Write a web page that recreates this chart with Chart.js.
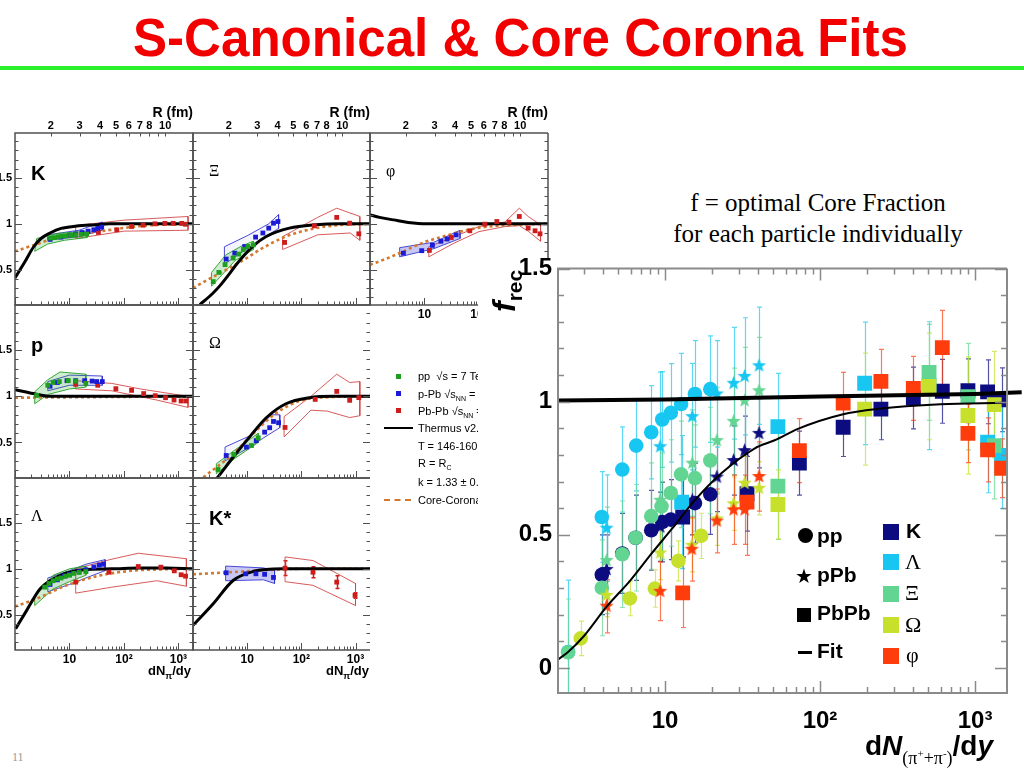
<!DOCTYPE html>
<html>
<head>
<meta charset="utf-8">
<title>S-Canonical &amp; Core Corona Fits</title>
<script src="https://cdn.jsdelivr.net/npm/chart.js@4.4.1/dist/chart.umd.min.js"></script>
<style>
  html, body { margin: 0; padding: 0; background: #fff; }
  body { width: 1024px; height: 768px; position: relative; overflow: hidden; font-family: Arial, "Liberation Sans", sans-serif; }
  #title { position: absolute; left: 133px; top: 6px; font: bold 53px "Liberation Sans", Arial, sans-serif; line-height: 64px; color: #f20000; white-space: nowrap; transform-origin: 0 0; }
  #rule { position: absolute; left: 0; top: 66px; width: 1024px; height: 4px; background: #2cf02c; }
  #leftFig canvas { position: absolute; z-index: 1; }
  .plabel { position: absolute; z-index: 2; color: #000; white-space: nowrap; }
  .sans { font: bold 20px Arial, sans-serif; line-height: 20px; }
  .serif { font: 16px "Liberation Serif", "DejaVu Serif", serif; line-height: 16px; }
  .dndy { position: absolute; z-index: 2; font: bold 13px Arial, sans-serif; top: 663px; white-space: nowrap; }
  .dndy sub { font-size: 9px; line-height: 0; }
  .leg { position: absolute; z-index: 2; font: 11px Arial, sans-serif; line-height: 12px; white-space: nowrap; }
  .leg sub { font-size: 7px; line-height: 0; }
  .mk { position: absolute; z-index: 2; width: 5px; height: 5px; }
  #mainBox { position: absolute; left: 478px; top: 258px; width: 546px; height: 510px; background: #fff; z-index: 5; }
  #mainChart { position: absolute; left: 0; top: 0; }
  .ov { position: absolute; z-index: 6; white-space: nowrap; color: #000; }
  .mtxt { font: bold 21px Arial, sans-serif; line-height: 24px; }
  .gsym { font: 22px "Liberation Serif", "DejaVu Serif", serif; line-height: 24px; }
  #note { position: absolute; left: 620px; top: 187px; width: 396px; text-align: center; font: 25px "Liberation Serif", "DejaVu Serif", serif; line-height: 31px; color: #000; z-index: 6; }
  #pageNo { position: absolute; left: 12px; top: 750px; font: 12px "Liberation Serif", serif; color: #999; }
</style>
</head>
<body>
<div id="title">S-Canonical &amp; Core Corona Fits</div>
<div id="rule"></div>

<div id="leftFig"></div>

<!-- legend of the left figure -->
<div class="mk" style="left:396px;top:374px;background:#1e9e1e"></div>
<div class="leg" style="left:418px;top:370px">pp&nbsp; √s = 7 TeV</div>
<div class="mk" style="left:396px;top:391px;background:#1b1bd6"></div>
<div class="leg" style="left:418px;top:388px">p-Pb √s<sub>NN</sub> = 5.02 TeV</div>
<div class="mk" style="left:396px;top:408px;background:#cc1c1c"></div>
<div class="leg" style="left:418px;top:405px">Pb-Pb √s<sub>NN</sub> = 2.76 TeV</div>
<div class="mk" style="left:384px;top:427px;width:29px;height:2px;background:#000"></div>
<div class="leg" style="left:418px;top:422px">Thermus v2.3 strangeness canonical</div>
<div class="leg" style="left:418px;top:440px">T = 146-160 MeV</div>
<div class="leg" style="left:418px;top:457px">R = R<sub>C</sub></div>
<div class="leg" style="left:418px;top:476px">k = 1.33 ± 0.1</div>
<div class="mk" style="left:384px;top:499px;width:27px;height:0;border-top:2px dashed #d2782f"></div>
<div class="leg" style="left:418px;top:494px">Core-Corona</div>

<div class="dndy" style="right:833px">dN<sub>π</sub>/dy</div>
<div class="dndy" style="right:655px">dN<sub>π</sub>/dy</div>

<div id="note">f = optimal Core Fraction<br>for each particle individually</div>

<div id="mainBox"><canvas id="mainChart" width="546" height="510"></canvas></div>

<!-- main chart overlays: axis titles and legend -->
<div class="ov" style="left:488px;top:312px;transform-origin:0 0;transform:rotate(-90deg);font:bold italic 32px Arial,sans-serif;line-height:32px">f<span style="font:bold 21px Arial,sans-serif;position:relative;top:7px">rec</span></div>
<div class="ov" style="left:865px;top:731px;font:bold 28px Arial,sans-serif;line-height:30px">d<i>N</i><span style="font:18px 'Liberation Serif',serif;position:relative;top:9px">(π<sup style="font-size:11px;line-height:0">+</sup>+π<sup style="font-size:11px;line-height:0">-</sup>)</span>/d<i>y</i></div>

<div class="ov" style="left:798px;top:528px;width:15px;height:15px;border-radius:50%;background:#000"></div>
<div class="ov mtxt" style="left:817px;top:524px">pp</div>
<div class="ov" style="left:795px;top:565px;font:20px 'DejaVu Sans',sans-serif;line-height:22px">★</div>
<div class="ov mtxt" style="left:817px;top:563px">pPb</div>
<div class="ov" style="left:797px;top:608px;width:14px;height:14px;background:#000"></div>
<div class="ov mtxt" style="left:817px;top:601px">PbPb</div>
<div class="ov" style="left:798px;top:651px;width:14px;height:3px;background:#000"></div>
<div class="ov mtxt" style="left:817px;top:639px">Fit</div>

<div class="ov" style="left:883px;top:524px;width:16px;height:16px;background:#0c0c80"></div>
<div class="ov mtxt" style="left:906px;top:519px">K</div>
<div class="ov" style="left:883px;top:554px;width:16px;height:16px;background:#17c7f1"></div>
<div class="ov gsym" style="left:905px;top:550px">Λ</div>
<div class="ov" style="left:883px;top:586px;width:16px;height:16px;background:#62d592"></div>
<div class="ov gsym" style="left:905px;top:581px">Ξ</div>
<div class="ov" style="left:883px;top:617px;width:16px;height:16px;background:#c6e02c"></div>
<div class="ov gsym" style="left:905px;top:613px">Ω</div>
<div class="ov" style="left:883px;top:648px;width:16px;height:16px;background:#ff3d0c"></div>
<div class="ov gsym" style="left:906px;top:643px">φ</div>

<div id="pageNo">11</div>

<script>
// ---------- main figure: [dN/dy, f_rec, error] ----------
const kaonPp = [[3.91,0.35,0.15],[5.3,0.43,0.15],[6.46,0.489,0.16],[8.15,0.517,0.15],[9.6,0.548,0.15],[10.9,0.557,0.15],[15.6,0.619,0.15],[19.6,0.652,0.15]];
const kaonPPb = [[4.2,0.37,0.13],[9.3,0.53,0.13],[15.0,0.63,0.13],[21.6,0.717,0.13],[27.7,0.779,0.13],[32.6,0.816,0.13],[40.4,0.881,0.13]];
const kaonPbPb = [[13,0.567,0.15],[33.8,0.654,0.14],[73.6,0.769,0.12],[141,0.904,0.11],[247,0.972,0.115],[400,1.014,0.116],[615,1.039,0.12],[900,1.041,0.12],[1205,1.037,0.12],[1485,1.007,0.12]];
const lambdaPp = [[2.37,0.06,0.27],[3.91,0.567,0.17],[5.3,0.745,0.16],[6.52,0.835,0.17],[8.15,0.885,0.175],[9.6,0.933,0.18],[10.9,0.958,0.185],[12.7,0.991,0.19],[15.6,1.029,0.2],[19.6,1.047,0.2]];
const lambdaPPb = [[4.2,0.525,0.2],[9.3,0.831,0.28],[15.0,0.944,0.2],[21.6,1.029,0.2],[27.7,1.069,0.21],[32.6,1.095,0.22],[40.4,1.135,0.22]];
const lambdaPbPb = [[12.8,0.623,0.25],[53.5,0.906,0.2],[194,1.069,0.23],[505,1.06,0.24],[1205,0.848,0.19],[1485,0.798,0.2]];
const xiPp = [[2.37,0.059,0.2],[3.91,0.301,0.18],[5.3,0.427,0.2],[6.46,0.489,0.2],[8.15,0.57,0.2],[9.5,0.607,0.2],[10.9,0.657,0.2],[12.7,0.727,0.2],[15.6,0.713,0.2],[19.6,0.779,0.2]];
const xiPPb = [[4.2,0.404,0.2],[9.3,0.63,0.2],[15.0,0.769,0.2],[21.6,0.854,0.2],[27.7,0.926,0.2],[32.6,1.004,0.2],[40.4,1.041,0.2]];
const xiPbPb = [[53.5,0.683,0.2],[505,1.11,0.18],[900,1.019,0.2],[1330,0.835,0.2]];
const omegaPp = [[2.86,0.111,0.065],[5.93,0.261,0.065],[8.6,0.298,0.07],[12.2,0.402,0.075],[17.1,0.496,0.085]];
const omegaPPb = [[4.2,0.273,0.08],[9.3,0.432,0.1],[14.9,0.461,0.1],[21.6,0.56,0.1],[27.7,0.617,0.1],[32.6,0.694,0.1],[40.4,0.675,0.1]];
const omegaPbPb = [[53.5,0.614,0.13],[194,0.972,0.21],[505,1.057,0.2],[900,0.948,0.22],[1330,0.989,0.2]];
const phiPPb = [[4.2,0.232,0.1],[9.3,0.288,0.11],[14.9,0.446,0.12],[21.6,0.552,0.12],[27.7,0.594,0.13],[32.6,0.594,0.13],[40.4,0.719,0.13]];
const phiPbPb = [[13,0.282,0.13],[33.8,0.623,0.2],[73.6,0.816,0.12],[141,0.995,0.115],[247,1.076,0.12],[400,1.05,0.12],[615,1.203,0.14],[900,0.881,0.11],[1205,0.819,0.12],[1485,0.75,0.11]];

const fitCurve = [[2.02,0.03],[2.37,0.06],[3,0.12],[4.2,0.23],[6,0.33],[8.2,0.43],[11,0.52],[15.6,0.63],[23,0.73],[38,0.825],[51,0.855],[72,0.898],[139,0.952],[240,0.973],[600,0.99],[1500,0.996]];
const thermusLine = [[2.04,1.004],[10,1.008],[100,1.019],[1000,1.029],[2000,1.035]];

const mainXTicks = [10, 100, 1000];
const mainXLabels = ['10', '10²', '10³'];
const mainYTicks = [0, 0.5, 1, 1.5];
const mainYLabels = ['0', '0.5', '1', '1.5'];

// ---------- left figure: [dN/dy, ratio] ----------
const kPanelPp = [[4.5,0.845],[5.3,0.85],[6.2,0.86],[7.2,0.865],[8.5,0.87],[10.5,0.875],[13,0.88],[16.5,0.885],[20.6,0.888]];
const kPanelPPb = [[4.4,0.83],[7,0.855],[10,0.875],[13,0.89],[17,0.905],[22,0.92],[28,0.935],[33,0.95],[39,0.964]];
const kPanelPbPb = [[13,0.88],[34,0.906],[74,0.935],[138,0.971],[225,0.985],[370,1.0],[565,1.005],[800,1.005],[1150,1.005],[1350,0.995]];
const kBandPp = [[2.3,0.7],[2.5,0.84],[6,0.895],[21,0.92],[21,0.85],[8,0.82],[4,0.78],[2.3,0.7]];
const kBandPPb = [[4,0.82],[4,0.88],[15,0.93],[40,1.02],[40,0.93],[15,0.86],[4,0.82]];
const kBandPbPb = [[13,0.84],[13,0.98],[100,1.04],[1500,1.08],[1500,0.93],[100,0.92],[13,0.84]];
const kThermus = [[1,0.41],[1.5,0.58],[2.2,0.75],[3,0.84],[4.4,0.9],[7,0.95],[13.5,0.975],[30,0.99],[55,1.0],[1850,1.0]];
const kCoreCorona = [[1,0.7],[2,0.76],[4.4,0.826],[10,0.87],[36,0.917],[100,0.955],[226,0.978],[600,0.993],[1850,1.0]];

const xiPanelPp = [[2.36,0.37],[3,0.47],[3.9,0.555],[5.5,0.627],[7,0.67],[8.5,0.72],[10.3,0.753],[13,0.77]];
const xiPanelPPb = [[4.1,0.616],[5.9,0.68],[9,0.753],[14.3,0.855],[19.5,0.9],[25,0.953],[30.6,1.007],[37,1.025]];
const xiPanelPbPb = [[49,0.797],[174,0.978],[450,1.07],[780,1.007],[1150,0.891]];
const xiBandPp = [[2.2,0.32],[2.2,0.47],[4,0.66],[8,0.76],[13,0.81],[13,0.72],[6,0.6],[2.2,0.32]];
const xiBandPPb = [[3.8,0.56],[3.8,0.75],[10,0.87],[25,1.0],[38,1.1],[38,0.95],[15,0.8],[3.8,0.56]];
const xiBandPbPb = [[45,0.72],[45,0.86],[200,1.07],[450,1.17],[1200,1.08],[1200,0.82],[800,0.9],[200,0.88],[45,0.72]];
const xiThermus = [[1.34,0.12],[2.3,0.24],[3.3,0.34],[4.5,0.44],[6,0.54],[8.4,0.645],[13,0.76],[22.5,0.862],[60,0.953],[186,0.99],[500,1.0],[1850,1.0]];
const xiCoreCorona = [[1,0.3],[2,0.4],[4.8,0.52],[10,0.63],[17,0.717],[52,0.862],[186,0.953],[600,0.99],[1850,1.0]];

const phiPanelPPb = [[4.1,0.68],[8.9,0.707],[14,0.765],[20,0.81],[26,0.834],[38,0.88]];
const phiPanelPbPb = [[12.3,0.71],[31,0.851],[68,0.924],[128,0.996],[213,1.025],[355,1.018],[550,1.08],[800,0.953],[1070,0.924],[1320,0.891]];
const phiBandPPb = [[3.5,0.64],[3.5,0.74],[15,0.8],[45,0.93],[45,0.84],[15,0.73],[3.5,0.64]];
const phiBandPbPb = [[12,0.64],[12,0.75],[35,0.86],[100,0.97],[300,1.02],[550,1.17],[800,1.08],[1350,0.99],[1350,0.81],[800,0.92],[550,0.98],[300,0.97],[100,0.915],[35,0.79],[12,0.64]];
const phiThermus = [[1,1.098],[1.5,1.07],[2.7,1.043],[5,1.015],[11,1.0],[1850,1.0]];
const phiCoreCorona = [[1,0.554],[2,0.62],[4.1,0.7],[10,0.8],[22,0.862],[91,0.953],[490,0.99],[1850,1.0]];

const pPanelPp = [[2.5,1.01],[4,1.12],[5,1.15],[6.5,1.16],[9.5,1.17],[13,1.165],[20,1.14]];
const pPanelPPb = [[4.4,1.11],[6,1.15],[9,1.17],[13,1.17],[19,1.17],[26,1.165],[31.5,1.16],[40,1.16]];
const pPanelPbPb = [[13,1.13],[33,1.12],[71,1.083],[138,1.065],[230,1.03],[375,1.007],[580,0.985],[830,0.96],[1120,0.95],[1370,0.95]];
const pBandPp = [[2.3,0.92],[2.3,1.05],[4,1.18],[6.7,1.264],[20,1.24],[20,1.1],[10,1.08],[4,1.02],[2.3,0.92]];
const pBandPPb = [[4,1.06],[4,1.16],[10,1.23],[40,1.22],[40,1.12],[10,1.12],[4,1.06]];
const pBandPbPb = [[13,1.08],[13,1.17],[60,1.14],[200,1.08],[1500,1.0],[1500,0.88],[400,0.96],[60,1.06],[13,1.08]];
const pThermus = [[1,1.073],[2.17,1.03],[4.4,1.0],[1850,1.0]];
const pCoreCorona = [[1,0.985],[1850,1.0]];

const omegaPanelPp = [[2.9,0.207],[5.7,0.37],[12,0.467],[16,0.55]];
const omegaPanelPPb = [[4.1,0.359],[9.7,0.45],[14.7,0.52],[21,0.612],[26,0.66],[30.6,0.728],[38,0.714]];
const omegaPanelPbPb = [[50,0.663],[180,0.967],[450,1.054],[780,0.957],[1150,0.986]];
const omegaBandPp = [[2.7,0.16],[2.7,0.27],[6,0.42],[16,0.6],[16,0.5],[6,0.33],[2.7,0.16]];
const omegaBandPPb = [[3.9,0.3],[3.9,0.45],[12,0.58],[28,0.8],[40,0.8],[40,0.66],[20,0.55],[12,0.46],[3.9,0.3]];
const omegaBandPbPb = [[48,0.56],[48,0.78],[150,1.0],[450,1.24],[780,1.15],[1200,1.16],[1200,0.79],[780,0.77],[300,0.84],[150,0.85],[48,0.56]];
const omegaThermus = [[2.4,0.07],[2.7,0.105],[5.5,0.34],[11,0.558],[22.5,0.768],[52,0.92],[140,0.985],[400,1.0],[1850,1.0]];
const omegaCoreCorona = [[1.55,0.123],[5.5,0.377],[12.8,0.594],[30,0.793],[92,0.95],[300,0.99],[1850,1.0]];

const lambdaPanelPp = [[3.5,0.8],[4.2,0.84],[5,0.87],[6,0.89],[7,0.9],[8.5,0.92],[10,0.93],[12,0.95],[15,0.96],[20,0.97]];
const lambdaPanelPPb = [[4.4,0.83],[6,0.88],[8,0.92],[10,0.94],[15,0.97],[20,0.99],[28,1.02],[35,1.04],[42,1.05]];
const lambdaPanelPbPb = [[13,0.855],[53,0.963],[183,1.025],[475,1.018],[840,0.978],[1120,0.935],[1350,0.92]];
const lambdaBandPp = [[2.3,0.6],[2.3,0.7],[5,0.93],[10,1.0],[20,1.03],[20,0.93],[10,0.86],[5,0.78],[2.3,0.6]];
const lambdaBandPPb = [[4,0.75],[4,0.9],[10,0.98],[20,1.05],[45,1.1],[45,0.98],[20,0.9],[10,0.83],[4,0.75]];
const lambdaBandPbPb = [[13,0.735],[13,1.0],[55,1.1],[183,1.17],[1400,1.11],[1400,0.81],[400,0.87],[60,0.8],[13,0.735]];
const lambdaThermus = [[1.03,0.348],[1.64,0.547],[2.9,0.783],[6.7,0.927],[18,0.99],[60,1.0],[200,1.01],[600,1.01],[1850,1.0]];
const lambdaCoreCorona = [[1,0.59],[2.5,0.674],[8.9,0.82],[36,0.927],[148,0.98],[600,0.995],[1850,1.0]];

const kstarPanelPPb = [[4.1,0.957],[9.4,0.946],[14.5,0.946],[21,0.94],[30.6,0.906]];
const kstarPanelPbPb = [[50,1.007],[164,0.963],[450,0.855],[980,0.71]];
const kstarPbPbErr = [0.08, 0.06, 0.07, 0.03];
const kstarBandPPb = [[4,0.87],[4,1.03],[20,1.01],[32,0.98],[32,0.84],[20,0.88],[4,0.87]];
const kstarBandPbPb = [[50,0.86],[50,1.13],[164,1.09],[1000,0.84],[1000,0.6],[164,0.82],[50,0.86]];
const kstarThermus = [[1,0.384],[2.36,0.62],[5.5,0.873],[12.8,0.97],[45,1.0],[1850,1.0]];
const kstarCoreCorona = [[1,0.94],[4,0.96],[30,0.99],[100,1.0],[1850,1.0]];

const panelXTicks = [10, 100, 1000];
const panelXLabels = ['10', '10²', '10³'];
const panelYTicks = [0.5, 1, 1.5];
const panelYLabels = ['0.5', '1', '1.5'];
const rTickVals = [2, 3, 4, 5, 6, 7, 8, 9, 10];
const rTickLabels = ['2', '3', '4', '5', '6', '7', '8', '', '10'];
const dnAtR2fm = 4.56;   // dN/dy where R = 2 fm, R grows as (dN/dy)^(1/3)

// ---------- colours ----------
const colK = '#0c0c80', colL = '#17c7f1', colXi = '#62d592', colOm = '#c6e02c', colPhi = '#ff3d0c';
const colPp = '#1e9e1e', colPPb = '#1b1bd6', colPbPb = '#cc1c1c', colCore = '#d2782f';

Chart.defaults.font.family = 'Arial, "Liberation Sans", sans-serif';
Chart.defaults.color = '#000';

const rToDn = r => dnAtR2fm * Math.pow(r / 2, 3);

function withAlpha(hex, a) {
  const n = parseInt(hex.slice(1), 16);
  return `rgba(${n >> 16},${(n >> 8) & 255},${n & 255},${a})`;
}

function starImage(color, r) {
  const size = Math.ceil(2 * r + 2);
  const c = document.createElement('canvas');
  c.width = c.height = size;
  const g = c.getContext('2d');
  g.fillStyle = color;
  g.beginPath();
  for (let k = 0; k < 10; k++) {
    const rad = k % 2 ? r * 0.42 : r;
    const ang = -Math.PI / 2 + k * Math.PI / 5;
    g.lineTo(size / 2 + rad * Math.cos(ang), size / 2 + rad * Math.sin(ang));
  }
  g.closePath();
  g.fill();
  return c;
}

// vertical error bars with small caps, read from dataset.errors
const errorBars = {
  id: 'errorBars',
  beforeDatasetsDraw(chart) {
    const { ctx, chartArea: a } = chart;
    const ys = chart.scales.y;
    ctx.save();
    ctx.beginPath();
    ctx.rect(a.left, a.top, a.right - a.left, a.bottom - a.top);
    ctx.clip();
    chart.data.datasets.forEach((ds, i) => {
      if (!ds.errors) return;
      const meta = chart.getDatasetMeta(i);
      ctx.strokeStyle = ds.errColor;
      ctx.lineWidth = ds.errWidth || 1.2;
      const cap = ds.errCap || 2.5;
      ctx.beginPath();
      meta.data.forEach((pt, j) => {
        const v = ds.data[j].y, e = ds.errors[j];
        const x = Math.round(pt.x) + 0.5;
        const y0 = ys.getPixelForValue(v - e), y1 = ys.getPixelForValue(v + e);
        ctx.moveTo(x, y0); ctx.lineTo(x, y1);
        ctx.moveTo(x - cap, y0); ctx.lineTo(x + cap, y0);
        ctx.moveTo(x - cap, y1); ctx.lineTo(x + cap, y1);
      });
      ctx.stroke();
    });
    ctx.restore();
  }
};

// ROOT-style frame with inward ticks
const frameTicks = {
  id: 'frameTicks',
  afterDatasetsDraw(chart, args, o) {
    const { ctx, chartArea: a } = chart;
    const xs = chart.scales.x, ys = chart.scales.y;
    ctx.save();
    ctx.strokeStyle = o.color;
    ctx.lineWidth = o.tickWidth;
    ctx.beginPath();
    const k0 = Math.ceil(ys.min * 10 - 1e-6), k1 = Math.floor(ys.max * 10 + 1e-6);
    for (let k = k0; k <= k1; k++) {
      const y = Math.round(ys.getPixelForValue(k / 10)) + 0.5;
      const len = k % 5 === 0 ? o.major : o.minor;
      ctx.moveTo(a.left, y); ctx.lineTo(a.left + len, y);
      ctx.moveTo(a.right, y); ctx.lineTo(a.right - len, y);
    }
    const d0 = Math.floor(Math.log10(xs.min)), d1 = Math.ceil(Math.log10(xs.max));
    for (let d = d0; d <= d1; d++) {
      for (let m = 1; m <= 9; m++) {
        const v = m * Math.pow(10, d);
        if (v < xs.min * 0.999 || v > xs.max * 1.001) continue;
        const x = Math.round(xs.getPixelForValue(v)) + 0.5;
        const len = m === 1 ? o.major : o.minor;
        ctx.moveTo(x, a.bottom); ctx.lineTo(x, a.bottom - len);
        if (o.topLog) { ctx.moveTo(x, a.top); ctx.lineTo(x, a.top + len); }
      }
    }
    if (o.topR) {
      rTickVals.forEach(r => {
        const x = Math.round(xs.getPixelForValue(rToDn(r))) + 0.5;
        ctx.moveTo(x, a.top); ctx.lineTo(x, a.top + o.minor);
      });
    }
    ctx.stroke();
    ctx.lineWidth = o.frameWidth;
    ctx.beginPath();
    ctx.moveTo(a.right, a.top);
    ctx.lineTo(a.left, a.top);
    ctx.lineTo(a.left, a.bottom);
    ctx.lineTo(a.right, a.bottom);
    if (!o.noRight) ctx.lineTo(a.right, a.top);
    ctx.stroke();
    ctx.restore();
  }
};

// ---------- main chart ----------
function mainSet(rows, color, style, order) {
  return {
    data: rows.map(r => ({ x: r[0], y: r[1] })),
    errors: rows.map(r => r[2]),
    errColor: withAlpha(color, 0.7),
    pointStyle: style === 'star' ? starImage(color, 7.5) : style,
    pointRadius: style === 'rect' ? 10.5 : 7.3,
    pointBackgroundColor: color,
    pointBorderWidth: 0,
    showLine: false,
    order
  };
}

function lineSet(rows, color, width, extra) {
  return Object.assign({
    type: 'line',
    data: rows.map(r => ({ x: r[0], y: r[1] })),
    borderColor: color,
    borderWidth: width,
    pointRadius: 0,
    fill: false,
    tension: 0.4,
    cubicInterpolationMode: 'monotone',
    order: 0
  }, extra || {});
}

function initMainChart() {
  const datasets = [
    lineSet(thermusLine, '#000', 4, { tension: 0, cubicInterpolationMode: 'default', clip: false }),
    lineSet(fitCurve, '#000', 2),
    mainSet(kaonPp, colK, 'circle', 5), mainSet(kaonPPb, colK, 'star', 5), mainSet(kaonPbPb, colK, 'rect', 5),
    mainSet(lambdaPp, colL, 'circle', 4), mainSet(lambdaPPb, colL, 'star', 4), mainSet(lambdaPbPb, colL, 'rect', 4),
    mainSet(xiPp, colXi, 'circle', 3), mainSet(xiPPb, colXi, 'star', 3), mainSet(xiPbPb, colXi, 'rect', 3),
    mainSet(omegaPp, colOm, 'circle', 2), mainSet(omegaPPb, colOm, 'star', 2), mainSet(omegaPbPb, colOm, 'rect', 2),
    mainSet(phiPPb, colPhi, 'star', 1), mainSet(phiPbPb, colPhi, 'rect', 1)
  ];
  new Chart(document.getElementById('mainChart'), {
    type: 'scatter',
    data: { datasets },
    options: {
      responsive: false,
      animation: false,
      events: [],
      layout: { padding: { top: 10, right: 17, left: 0, bottom: 0 } },
      plugins: {
        legend: { display: false },
        tooltip: { enabled: false },
        frameTicks: { color: '#8a8a8a', tickWidth: 1.5, frameWidth: 2, major: 12, minor: 6, topLog: true }
      },
      scales: {
        x: {
          type: 'logarithmic', min: 2.04, max: 1608, position: 'bottom',
          afterBuildTicks: s => { s.ticks = mainXTicks.map(v => ({ value: v })); },
          afterFit: s => { s.height = 75; s.paddingLeft = 0; s.paddingRight = 0; },
          ticks: { callback: (v, i) => mainXLabels[i], font: { size: 24, weight: 'bold' }, color: '#000', padding: 14, autoSkip: false, maxRotation: 0, minRotation: 0 },
          grid: { display: false, drawTicks: false },
          border: { display: false }
        },
        y: {
          min: -0.094, max: 1.5, position: 'left',
          afterBuildTicks: s => { s.ticks = mainYTicks.map(v => ({ value: v })); },
          afterFit: s => { s.width = 80; s.paddingTop = 0; s.paddingBottom = 0; },
          ticks: { callback: (v, i) => mainYLabels[i], font: { size: 24, weight: 'bold' }, color: '#000', padding: 6, autoSkip: false },
          grid: { display: false, drawTicks: false },
          border: { display: false }
        }
      }
    },
    plugins: [errorBars, frameTicks]
  });
}

// ---------- left figure ----------
const colEdges = [[15, 193], [193, 370], [370, 548]];
const rowEdges = [[133, 305], [305, 478], [478, 650]];

const panels = [
  { col: 0, row: 0, label: 'K', font: 'sans', pp: kPanelPp, ppb: kPanelPPb, pbpb: kPanelPbPb, bands: [kBandPp, kBandPPb, kBandPbPb], thermus: kThermus, core: kCoreCorona, blueFill: 0.06 },
  { col: 1, row: 0, label: 'Ξ', font: 'serif', pp: xiPanelPp, ppb: xiPanelPPb, pbpb: xiPanelPbPb, bands: [xiBandPp, xiBandPPb, xiBandPbPb], thermus: xiThermus, core: xiCoreCorona, blueFill: 0.06 },
  { col: 2, row: 0, label: 'φ', font: 'serif', pp: [], ppb: phiPanelPPb, pbpb: phiPanelPbPb, bands: [null, phiBandPPb, phiBandPbPb], thermus: phiThermus, core: phiCoreCorona, blueFill: 0.3, bottomLabels: true },
  { col: 0, row: 1, label: 'p', font: 'sans', pp: pPanelPp, ppb: pPanelPPb, pbpb: pPanelPbPb, bands: [pBandPp, pBandPPb, pBandPbPb], thermus: pThermus, core: pCoreCorona, blueFill: 0.06 },
  { col: 1, row: 1, label: 'Ω', font: 'serif', pp: omegaPanelPp, ppb: omegaPanelPPb, pbpb: omegaPanelPbPb, bands: [omegaBandPp, omegaBandPPb, omegaBandPbPb], thermus: omegaThermus, core: omegaCoreCorona, blueFill: 0.06, noRight: true },
  { col: 0, row: 2, label: 'Λ', font: 'serif', pp: lambdaPanelPp, ppb: lambdaPanelPPb, pbpb: lambdaPanelPbPb, bands: [lambdaBandPp, lambdaBandPPb, lambdaBandPbPb], thermus: lambdaThermus, core: lambdaCoreCorona, blueFill: 0.06, bottomLabels: true },
  { col: 1, row: 2, label: 'K*', font: 'sans', pp: [], ppb: kstarPanelPPb, pbpb: kstarPanelPbPb, pbpbErr: kstarPbPbErr, bands: [null, kstarBandPPb, kstarBandPbPb], thermus: kstarThermus, core: kstarCoreCorona, blueFill: 0.3, bottomLabels: true, noRight: true }
];

const toXY = rows => rows.map(r => ({ x: r[0], y: r[1] }));

function bandSet(rows, color, fillColor) {
  return {
    type: 'line', data: toXY(rows), borderColor: color, borderWidth: 0.9, pointRadius: 0,
    fill: fillColor ? 'shape' : false, backgroundColor: fillColor || 'rgba(0,0,0,0)', tension: 0, order: 3
  };
}

function dotSet(rows, color, errs) {
  const ds = {
    data: toXY(rows), pointStyle: 'rect', pointRadius: 3.4, pointBackgroundColor: color,
    pointBorderWidth: 0, showLine: false, order: 1
  };
  if (errs) { ds.errors = errs; ds.errColor = color; ds.errWidth = 1.5; ds.errCap = 2; }
  return ds;
}

function makePanel(p) {
  const [fx0, fx1] = colEdges[p.col];
  const [fy0, fy1] = rowEdges[p.row];
  const padL = 22, padR = 6, padT = p.row === 0 ? 40 : 6, padB = p.bottomLabels ? 26 : 6;
  const cv = document.createElement('canvas');
  cv.width = fx1 - fx0 + padL + padR;
  cv.height = fy1 - fy0 + padT + padB;
  cv.style.left = (fx0 - padL) + 'px';
  cv.style.top = (fy0 - padT) + 'px';
  document.getElementById('leftFig').appendChild(cv);

  const datasets = [];
  if (p.bands[0]) datasets.push(bandSet(p.bands[0], '#22a022', 'rgba(40,170,40,0.22)'));
  if (p.bands[1]) datasets.push(bandSet(p.bands[1], '#3535d0', `rgba(70,70,225,${p.blueFill})`));
  if (p.bands[2]) datasets.push(bandSet(p.bands[2], '#d44848', null));
  datasets.push(lineSet(p.thermus, '#000', 3, { order: 2 }));
  datasets.push(lineSet(p.core, colCore, 2.6, { order: 2, borderDash: [3, 3] }));
  if (p.pp.length) datasets.push(dotSet(p.pp, colPp));
  datasets.push(dotSet(p.ppb, colPPb));
  datasets.push(dotSet(p.pbpb, colPbPb, p.pbpbErr));

  new Chart(cv, {
    type: 'scatter',
    data: { datasets },
    options: {
      responsive: false,
      animation: false,
      events: [],
      layout: { padding: { top: 0, right: padR, left: 0, bottom: 0 } },
      plugins: {
        legend: { display: false },
        tooltip: { enabled: false },
        frameTicks: { color: '#505050', tickWidth: 1, frameWidth: 1.5, major: 7, minor: 3.5, topR: p.row === 0, noRight: !!p.noRight }
      },
      scales: {
        x: {
          type: 'logarithmic', min: 1, max: 1850, position: 'bottom',
          afterBuildTicks: s => { s.ticks = panelXTicks.map(v => ({ value: v })); },
          afterFit: s => { s.height = padB; s.paddingLeft = 0; s.paddingRight = 0; },
          ticks: { callback: (v, i) => p.bottomLabels ? panelXLabels[i] : '', font: { size: 12, weight: 'bold' }, color: '#000', padding: 2, autoSkip: false, maxRotation: 0, minRotation: 0 },
          grid: { display: false, drawTicks: false },
          border: { display: false }
        },
        x2: {
          type: 'logarithmic', min: 1, max: 1850, position: 'top',
          afterBuildTicks: s => { s.ticks = rTickVals.map(r => ({ value: rToDn(r) })); },
          afterFit: s => { s.height = padT; s.paddingLeft = 0; s.paddingRight = 0; },
          ticks: { callback: (v, i) => p.row === 0 ? rTickLabels[i] : '', font: { size: 11, weight: 'bold' }, color: '#000', padding: 0, autoSkip: false, maxRotation: 0, minRotation: 0 },
          title: { display: p.row === 0, text: 'R (fm)', align: 'end', font: { size: 14, weight: 'bold' }, color: '#000', padding: { top: 12, bottom: 0 } },
          grid: { display: false, drawTicks: false },
          border: { display: false }
        },
        y: {
          min: 0.115, max: 1.99, position: 'left',
          afterBuildTicks: s => { s.ticks = panelYTicks.map(v => ({ value: v })); },
          afterFit: s => { s.width = padL; s.paddingTop = 0; s.paddingBottom = 0; },
          ticks: { callback: (v, i) => p.col === 0 ? panelYLabels[i] : '', font: { size: 11, weight: 'bold' }, color: '#000', padding: 3, autoSkip: false },
          grid: { display: false, drawTicks: false },
          border: { display: false }
        }
      }
    },
    plugins: [errorBars, frameTicks]
  });

  const lab = document.createElement('div');
  lab.className = 'plabel ' + p.font;
  lab.textContent = p.label;
  lab.style.left = (fx0 + 16) + 'px';
  lab.style.top = (fy0 + 30) + 'px';
  document.body.appendChild(lab);
}

document.addEventListener('DOMContentLoaded', () => {
  const t = document.getElementById('title');
  t.style.transform = `scaleX(${775 / t.getBoundingClientRect().width})`;
  panels.forEach(makePanel);
  initMainChart();
});
</script>
</body>
</html>
